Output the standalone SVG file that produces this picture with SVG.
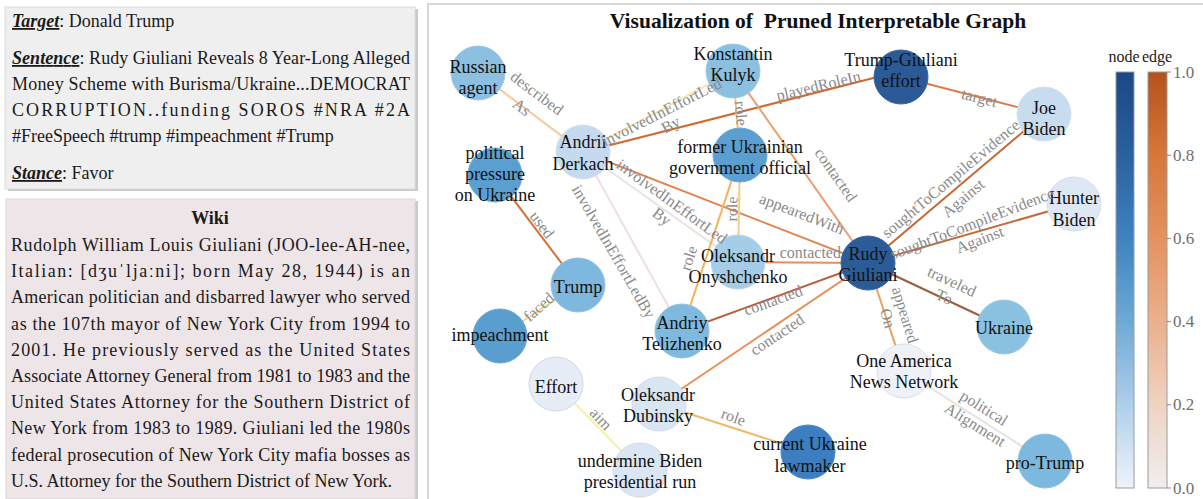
<svg xmlns="http://www.w3.org/2000/svg" width="1203" height="499" viewBox="0 0 1203 499">
<defs>
<style>
.tx{font-family:"Liberation Serif","DejaVu Serif",serif;font-size:18px;fill:#1a1a1a}
.hd{font-weight:bold;font-style:italic;text-decoration:underline}
.nl{font-family:"Liberation Serif","DejaVu Serif",serif;font-size:18px;fill:#111;text-anchor:middle}
.el{font-family:"Liberation Serif","DejaVu Serif",serif;font-size:16px;fill:#8a8a8a;text-anchor:middle}
.tk{font-family:"Liberation Serif","DejaVu Serif",serif;font-size:17px;fill:#6f6f6f}
.cb{font-family:"Liberation Serif","DejaVu Serif",serif;font-size:16px;fill:#222;text-anchor:middle}
.e{fill:none;stroke-width:2}
.n{stroke-width:1}
</style>
<linearGradient id="gNode" x1="0" y1="0" x2="0" y2="1">
<stop offset="0" stop-color="#1b4886"/>
<stop offset="0.2" stop-color="#2a619f"/>
<stop offset="0.4" stop-color="#3e83c0"/>
<stop offset="0.6" stop-color="#6caad6"/>
<stop offset="0.8" stop-color="#aecfea"/>
<stop offset="1" stop-color="#eef4fb"/>
</linearGradient>
<linearGradient id="gEdge" x1="0" y1="0" x2="0" y2="1">
<stop offset="0" stop-color="#b3531b"/>
<stop offset="0.2" stop-color="#d7773a"/>
<stop offset="0.4" stop-color="#e4925e"/>
<stop offset="0.6" stop-color="#ebb08c"/>
<stop offset="0.8" stop-color="#efd3c2"/>
<stop offset="1" stop-color="#f1eeee"/>
</linearGradient>
</defs>
<rect width="1203" height="499" fill="#ffffff"/>

<!-- Left top panel -->
<g id="panel-target">
<rect x="8" y="9" width="410" height="182" fill="#c9c9c9"/>
<rect x="5" y="7" width="410" height="182" fill="#efefef" stroke="#dcdcdc" stroke-width="1"/>
<text class="tx" x="12" y="27"><tspan class="hd">Target</tspan>: Donald Trump</text>
<text class="tx" x="12" y="64" textLength="398" lengthAdjust="spacing"><tspan class="hd">Sentence</tspan>: Rudy Giuliani Reveals 8 Year-Long Alleged</text>
<text class="tx" x="12" y="90" textLength="398" lengthAdjust="spacing">Money Scheme with Burisma/Ukraine...DEMOCRAT</text>
<text class="tx" x="12" y="116" textLength="398" lengthAdjust="spacing">CORRUPTION..funding SOROS #NRA #2A</text>
<text class="tx" x="12" y="142">#FreeSpeech #trump #impeachment #Trump</text>
<text class="tx" x="12" y="179"><tspan class="hd">Stance</tspan>: Favor</text>
</g>

<!-- Left bottom panel -->
<g id="panel-wiki">
<rect x="9" y="201" width="409" height="300" fill="#cfc7ca"/>
<rect x="6" y="199" width="409" height="300" fill="#eee5e8" stroke="#ddd5d8" stroke-width="1"/>
<text class="tx" x="210" y="224" text-anchor="middle" font-weight="bold" font-size="21">Wiki</text>
<text class="tx" x="11" y="251" textLength="399" lengthAdjust="spacing">Rudolph William Louis Giuliani (JOO-lee-AH-nee,</text>
<text class="tx" x="11" y="277.2" textLength="399" lengthAdjust="spacing">Italian: [dʒuˈljaːni]; born May 28, 1944) is an</text>
<text class="tx" x="11" y="303.4" textLength="399" lengthAdjust="spacing">American politician and disbarred lawyer who served</text>
<text class="tx" x="11" y="329.6" textLength="399" lengthAdjust="spacing">as the 107th mayor of New York City from 1994 to</text>
<text class="tx" x="11" y="355.8" textLength="399" lengthAdjust="spacing">2001. He previously served as the United States</text>
<text class="tx" x="11" y="382" textLength="399" lengthAdjust="spacing">Associate Attorney General from 1981 to 1983 and the</text>
<text class="tx" x="11" y="408.2" textLength="399" lengthAdjust="spacing">United States Attorney for the Southern District of</text>
<text class="tx" x="11" y="434.4" textLength="399" lengthAdjust="spacing">New York from 1983 to 1989. Giuliani led the 1980s</text>
<text class="tx" x="11" y="460.6" textLength="399" lengthAdjust="spacing">federal prosecution of New York City mafia bosses as</text>
<text class="tx" x="11" y="486.8">U.S. Attorney for the Southern District of New York.</text>
</g>

<!-- Right panel frame and title -->
<rect x="428" y="4" width="790" height="510" fill="#ffffff" stroke="#d6d6d6" stroke-width="2"/>
<text x="818" y="28" font-family="'Liberation Serif','DejaVu Serif',serif" font-size="21.5" font-weight="bold" fill="#111" text-anchor="middle" xml:space="preserve">Visualization of  Pruned Interpretable Graph</text>

<!-- Connectors -->
<g id="connectors">
<line class="e" x1="478" y1="73" x2="583" y2="152" stroke="#f6c893"/>
<line class="e" x1="583" y1="152" x2="733" y2="71" stroke="#f6eab6"/>
<line class="e" x1="583" y1="152" x2="901" y2="71" stroke="#cf6a33"/>
<line class="e" x1="583" y1="152" x2="868" y2="263" stroke="#e08650"/>
<line class="e" x1="583" y1="152" x2="738" y2="262" stroke="#e8e4e6"/>
<line class="e" x1="583" y1="152" x2="682" y2="331" stroke="#efdfdf"/>
<line class="e" x1="733" y1="71" x2="740" y2="155" stroke="#f3c383"/>
<line class="e" x1="733" y1="71" x2="868" y2="263" stroke="#e8a070"/>
<line class="e" x1="901" y1="77" x2="1044" y2="114" stroke="#e07a48"/>
<line class="e" x1="868" y1="263" x2="1044" y2="114" stroke="#c96530"/>
<line class="e" x1="868" y1="263" x2="1074" y2="204" stroke="#c4693a"/>
<line class="e" x1="868" y1="263" x2="1004" y2="327" stroke="#9b5e3e"/>
<line class="e" x1="868" y1="263" x2="904" y2="371" stroke="#eda060"/>
<line class="e" x1="738" y1="262" x2="868" y2="263" stroke="#eb8d55"/>
<line class="e" x1="740" y1="155" x2="738" y2="262" stroke="#f5cd80"/>
<line class="e" x1="740" y1="155" x2="682" y2="331" stroke="#f3b455"/>
<line class="e" x1="682" y1="331" x2="868" y2="263" stroke="#b8603a"/>
<line class="e" x1="659" y1="404" x2="868" y2="263" stroke="#e88f58"/>
<line class="e" x1="659" y1="404" x2="808" y2="452" stroke="#f0bb66"/>
<line class="e" x1="495" y1="175" x2="578" y2="285" stroke="#d57038"/>
<line class="e" x1="578" y1="285" x2="500" y2="336" stroke="#f6d590"/>
<line class="e" x1="556" y1="384" x2="640" y2="470" stroke="#f5eeb5"/>
<line class="e" x1="904" y1="371" x2="1045" y2="461" stroke="#e6e3e3"/>
</g>

<!-- Nodes -->
<g id="node-russian-agent"><circle class="n" cx="478" cy="73" r="27" fill="#8dbfe0" stroke="#9fc9e5"/><text class="nl" x="478" y="73">Russian</text><text class="nl" x="478" y="94">agent</text></g>
<g id="node-konstantin-kulyk"><circle class="n" cx="733" cy="71" r="27" fill="#8cc0e1" stroke="#9ec9e5"/><text class="nl" x="733" y="60">Konstantin</text><text class="nl" x="733" y="81">Kulyk</text></g>
<g id="node-trump-giuliani-effort"><circle class="n" cx="901" cy="77" r="27" fill="#2c5a96" stroke="#3a659f"/><text class="nl" x="901" y="66">Trump-Giuliani</text><text class="nl" x="901" y="87">effort</text></g>
<g id="node-joe-biden"><circle class="n" cx="1044" cy="114" r="27" fill="#c8dcef" stroke="#d3e3f2"/><text class="nl" x="1044" y="114">Joe</text><text class="nl" x="1044" y="135">Biden</text></g>
<g id="node-andrii-derkach"><circle class="n" cx="583" cy="152" r="27" fill="#c5daee" stroke="#d1e2f1"/><text class="nl" x="583" y="148">Andrii</text><text class="nl" x="583" y="170">Derkach</text></g>
<g id="node-former-official"><circle class="n" cx="740" cy="155" r="27" fill="#5b9fd0" stroke="#6ca9d5"/><text class="nl" x="740" y="153">former Ukrainian</text><text class="nl" x="740" y="174">government official</text></g>
<g id="node-political-pressure"><circle class="n" cx="495" cy="175" r="27" fill="#5b9fd0" stroke="#6ca9d5"/><text class="nl" x="495" y="159">political</text><text class="nl" x="495" y="180">pressure</text><text class="nl" x="495" y="201">on Ukraine</text></g>
<g id="node-trump"><circle class="n" cx="578" cy="285" r="27" fill="#7fb8de" stroke="#91c2e2"/><text class="nl" x="578" y="293">Trump</text></g>
<g id="node-impeachment"><circle class="n" cx="500" cy="336" r="27" fill="#5a9ecf" stroke="#6ba8d4"/><text class="nl" x="500" y="341">impeachment</text></g>
<g id="node-oleksandr-onyshchenko"><circle class="n" cx="738" cy="262" r="27" fill="#a6cde7" stroke="#b4d5eb"/><text class="nl" x="738" y="262">Oleksandr</text><text class="nl" x="738" y="283">Onyshchenko</text></g>
<g id="node-rudy-giuliani"><circle class="n" cx="868" cy="263" r="27" fill="#2b5c97" stroke="#3a67a0"/><text class="nl" x="868" y="260">Rudy</text><text class="nl" x="868" y="281">Giuliani</text></g>
<g id="node-andriy-telizhenko"><circle class="n" cx="682" cy="331" r="27" fill="#7fb9de" stroke="#91c3e2"/><text class="nl" x="682" y="329">Andriy</text><text class="nl" x="682" y="350">Telizhenko</text></g>
<g id="node-hunter-biden"><circle class="n" cx="1074" cy="204" r="27" fill="#dee8f5" stroke="#d5dfec"/><text class="nl" x="1074" y="204">Hunter</text><text class="nl" x="1074" y="226">Biden</text></g>
<g id="node-ukraine"><circle class="n" cx="1004" cy="327" r="27" fill="#8ac1e1" stroke="#9ccae5"/><text class="nl" x="1004" y="334">Ukraine</text></g>
<g id="node-one-america"><circle class="n" cx="904" cy="371" r="27" fill="#eef2f8" stroke="#d9dee6"/><text class="nl" x="904" y="367">One America</text><text class="nl" x="904" y="388">News Network</text></g>
<g id="node-effort"><circle class="n" cx="556" cy="384" r="27" fill="#e6edf7" stroke="#d3d9e2"/><text class="nl" x="556" y="393">Effort</text></g>
<g id="node-oleksandr-dubinsky"><circle class="n" cx="659" cy="404" r="27" fill="#d8e5f3" stroke="#d0dcea"/><text class="nl" x="658" y="401">Oleksandr</text><text class="nl" x="658" y="422">Dubinsky</text></g>
<g id="node-undermine-biden"><circle class="n" cx="640" cy="470" r="27" fill="#dae6f3" stroke="#d0dcea"/><text class="nl" x="640" y="467">undermine Biden</text><text class="nl" x="640" y="488">presidential run</text></g>
<g id="node-current-lawmaker"><circle class="n" cx="808" cy="452" r="27" fill="#3c7ebf" stroke="#4b89c5"/><text class="nl" x="810" y="450">current Ukraine</text><text class="nl" x="810" y="472">lawmaker</text></g>
<g id="node-pro-trump"><circle class="n" cx="1045" cy="461" r="27" fill="#7db8de" stroke="#8fc2e2"/><text class="nl" x="1045" y="469">pro-Trump</text></g>

<!-- Edge labels -->
<g id="edge-labels">
<text class="el" x="536.7" y="98.3" transform="rotate(37 536.7 93.3)">described</text>
<text class="el" x="521.7" y="112.3" transform="rotate(37 521.7 107.3)">As</text>
<text class="el" x="661.7" y="117.3" transform="rotate(-27 661.7 112.3)">involvedInEffortLed</text>
<text class="el" x="670.7" y="130" transform="rotate(-27 670.7 125)">By</text>
<text class="el" x="818.5" y="91" transform="rotate(-13.5 818.5 86)">playedRoleIn</text>
<text class="el" x="801.7" y="219" transform="rotate(21 801.7 214)">appearedWith</text>
<text class="el" x="671.7" y="206.7" transform="rotate(36 671.7 201.7)">involvedInEffortLed</text>
<text class="el" x="661.7" y="221.7" transform="rotate(36 661.7 216.7)">By</text>
<text class="el" x="613.3" y="256.7" transform="rotate(60 613.3 251.7)">involvedInEffortLedBy</text>
<text class="el" x="740.7" y="118.3" transform="rotate(85 740.7 113.3)">role</text>
<text class="el" x="835.7" y="180" transform="rotate(55 835.7 175)">contacted</text>
<text class="el" x="979.3" y="103" transform="rotate(14 979.3 98)">target</text>
<text class="el" x="951" y="184" transform="rotate(-40 951 179)">soughtToCompileEvidence</text>
<text class="el" x="963.3" y="203.3" transform="rotate(-40 963.3 198.3)">Against</text>
<text class="el" x="972.3" y="229" transform="rotate(-21 972.3 224)">soughtToCompileEvidence</text>
<text class="el" x="980" y="245" transform="rotate(-21 980 240)">Against</text>
<text class="el" x="951.7" y="286.7" transform="rotate(25 951.7 281.7)">traveled</text>
<text class="el" x="944" y="302.3" transform="rotate(25 944 297.3)">To</text>
<text class="el" x="905" y="320" transform="rotate(73 905 315)">appeared</text>
<text class="el" x="887.3" y="323.3" transform="rotate(73 887.3 318.3)">On</text>
<text class="el" x="810.3" y="257.7">contacted</text>
<text class="el" x="732.3" y="214" transform="rotate(-89 732.3 209)">role</text>
<text class="el" x="689" y="263.3" transform="rotate(-72 689 258.3)">role</text>
<text class="el" x="773.3" y="305.7" transform="rotate(-20 773.3 300.7)">contacted</text>
<text class="el" x="777.3" y="340" transform="rotate(-34 777.3 335)">contacted</text>
<text class="el" x="733.3" y="422.3" transform="rotate(20 733.3 417.3)">role</text>
<text class="el" x="541.7" y="230" transform="rotate(53 541.7 225)">used</text>
<text class="el" x="539" y="312.3" transform="rotate(-42 539 307.3)">faced</text>
<text class="el" x="600.7" y="424" transform="rotate(46 600.7 419)">aim</text>
<text class="el" x="984" y="413.3" transform="rotate(32 984 408.3)">political</text>
<text class="el" x="975" y="430" transform="rotate(32 975 425)">Alignment</text>
</g>

<!-- Colorbars -->
<g id="colorbars">
<text class="cb" x="1124" y="62">node</text>
<text class="cb" x="1157" y="62">edge</text>
<rect x="1116" y="72" width="18" height="416" fill="url(#gNode)" stroke="#9a9a9a" stroke-width="1"/>
<rect x="1148" y="72" width="19" height="416" fill="url(#gEdge)" stroke="#9a9a9a" stroke-width="1"/>
<g stroke="#8a8a8a" stroke-width="1">
<line x1="1167" y1="72" x2="1171" y2="72"/>
<line x1="1167" y1="155.2" x2="1171" y2="155.2"/>
<line x1="1167" y1="238.4" x2="1171" y2="238.4"/>
<line x1="1167" y1="321.6" x2="1171" y2="321.6"/>
<line x1="1167" y1="404.8" x2="1171" y2="404.8"/>
<line x1="1167" y1="488" x2="1171" y2="488"/>
</g>
<text class="tk" x="1173" y="78">1.0</text>
<text class="tk" x="1173" y="161">0.8</text>
<text class="tk" x="1173" y="244">0.6</text>
<text class="tk" x="1173" y="327">0.4</text>
<text class="tk" x="1173" y="410">0.2</text>
<text class="tk" x="1173" y="494">0.0</text>
</g>
</svg>
